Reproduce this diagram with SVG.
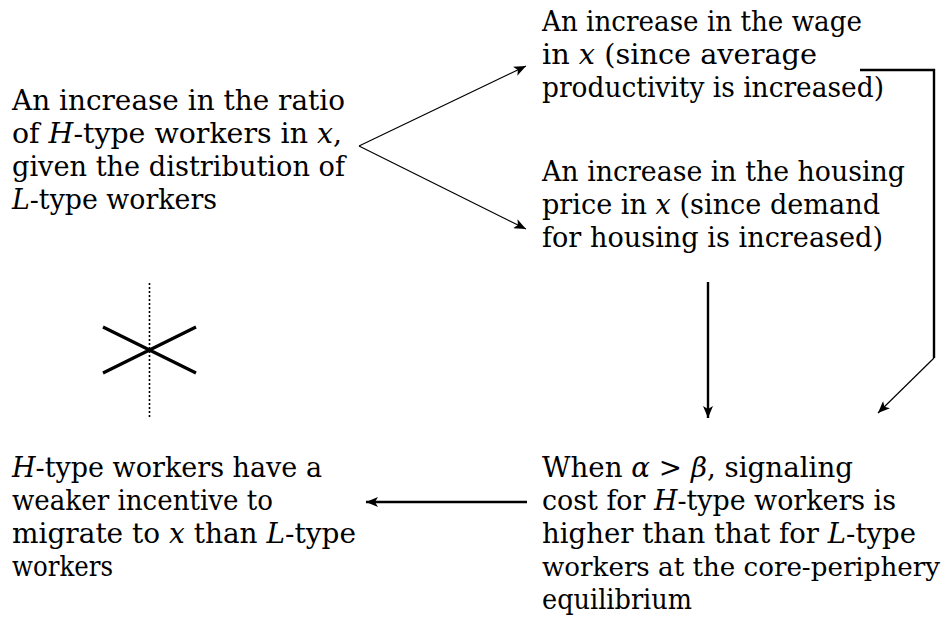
<svg xmlns="http://www.w3.org/2000/svg" width="946" height="621" viewBox="0 0 946 621">
<style>
.t text{font-family:'DejaVu Serif',serif;font-size:27px;fill:#000}
.i{font-style:italic}
.thin{stroke:#000;stroke-width:1.2;fill:none}
.thick{stroke:#000;stroke-width:2.4;fill:none}
</style>
<defs>
<marker id="ah" markerUnits="userSpaceOnUse" markerWidth="14" markerHeight="10" refX="12" refY="5" orient="auto">
<path d="M0,0 L12,5 L0,10 L3,5 Z" fill="#000"/>
</marker>
</defs>
<rect width="946" height="621" fill="#fff"/>
<g id="connectors">
<path class="thin" d="M359,146 L526,66" marker-end="url(#ah)"/>
<path class="thin" d="M359,146 L526,229" marker-end="url(#ah)"/>
<path class="thick" d="M860,70 L934,70 L934,358"/>
<path class="thin" d="M934,358 L878,413" marker-end="url(#ah)"/>
<path class="thick" d="M708,282 L708,418" marker-end="url(#ah)"/>
<path class="thick" d="M527,502 L366,502" marker-end="url(#ah)"/>
</g>
<g id="cross">
<path d="M149.5,283 L149.5,418" stroke="#000" stroke-width="1.6" stroke-dasharray="2,2" fill="none"/>
<path d="M103,327 L196,373 M103,373 L196,327" stroke="#000" stroke-width="3.2" fill="none"/>
</g>
<g id="node-ratio" class="t">
<text x="12" y="110" textLength="333" lengthAdjust="spacingAndGlyphs">An increase in the ratio</text>
<text x="12" y="143" textLength="330" lengthAdjust="spacingAndGlyphs">of <tspan class="i">H</tspan>-type workers in <tspan class="i">x</tspan>,</text>
<text x="12" y="176" textLength="333" lengthAdjust="spacingAndGlyphs">given the distribution of</text>
<text x="12" y="209" textLength="205" lengthAdjust="spacingAndGlyphs"><tspan class="i">L</tspan>-type workers</text>
</g>
<g id="node-wage" class="t">
<text x="542" y="31" textLength="320" lengthAdjust="spacingAndGlyphs">An increase in the wage</text>
<text x="542" y="64" textLength="275" lengthAdjust="spacingAndGlyphs">in <tspan class="i">x</tspan> (since average</text>
<text x="542" y="97" textLength="342" lengthAdjust="spacingAndGlyphs">productivity is increased)</text>
</g>
<g id="node-housing" class="t">
<text x="542" y="181" textLength="363" lengthAdjust="spacingAndGlyphs">An increase in the housing</text>
<text x="542" y="214" textLength="338" lengthAdjust="spacingAndGlyphs">price in <tspan class="i">x</tspan> (since demand</text>
<text x="542" y="247" textLength="341" lengthAdjust="spacingAndGlyphs">for housing is increased)</text>
</g>
<g id="node-signaling" class="t">
<text x="542" y="477" textLength="311" lengthAdjust="spacingAndGlyphs">When <tspan class="i">α</tspan> &gt; <tspan class="i">β</tspan>, signaling</text>
<text x="542" y="510" textLength="354" lengthAdjust="spacingAndGlyphs">cost for <tspan class="i">H</tspan>-type workers is</text>
<text x="542" y="543" textLength="374" lengthAdjust="spacingAndGlyphs">higher than that for <tspan class="i">L</tspan>-type</text>
<text x="542" y="576" textLength="398" lengthAdjust="spacingAndGlyphs" style="font-size:25.6px">workers at the core-periphery</text>
<text x="542" y="609" textLength="150" lengthAdjust="spacingAndGlyphs">equilibrium</text>
</g>
<g id="node-incentive" class="t">
<text x="12" y="477" textLength="310" lengthAdjust="spacingAndGlyphs"><tspan class="i">H</tspan>-type workers have a</text>
<text x="12" y="510" textLength="261" lengthAdjust="spacingAndGlyphs">weaker incentive to</text>
<text x="12" y="543" textLength="344" lengthAdjust="spacingAndGlyphs">migrate to <tspan class="i">x</tspan> than <tspan class="i">L</tspan>-type</text>
<text x="12" y="576" textLength="101" lengthAdjust="spacingAndGlyphs">workers</text>
</g>
</svg>
